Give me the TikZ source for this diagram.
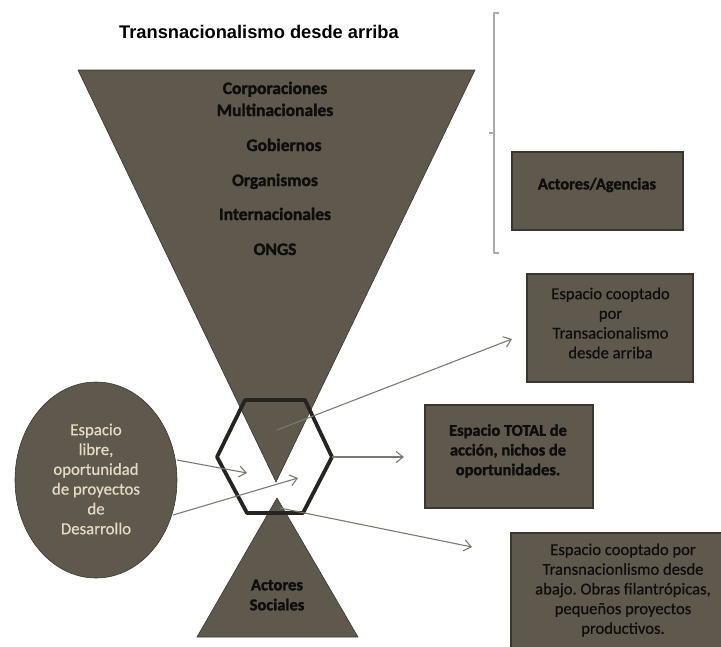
\documentclass[tikz,border=0pt]{standalone}
\usepackage{fontspec}
\setmainfont{Carlito}[BoldFeatures={FakeBold=1.6}]
\newfontfamily\arialfont{Liberation Sans}
\newfontfamily\softfont{Carlito}[UprightFeatures={FakeBold=0.4}]
\usetikzlibrary{arrows.meta,shapes.geometric}
\frenchspacing
\definecolor{fillc}{RGB}{94,88,77}
\definecolor{edgec}{RGB}{58,55,48}
\definecolor{arrowc}{RGB}{125,121,112}
\definecolor{bracec}{RGB}{172,170,166}
\definecolor{beige}{RGB}{232,219,198}
\definecolor{hexc}{RGB}{38,36,32}
\definecolor{txtc}{RGB}{14,13,12}
\tikzset{
  shapefill/.style={fill=fillc, draw=edgec, line width=0.6pt},
  boxnode/.style={rectangle, fill=fillc, draw=edgec, line width=2pt, inner sep=0pt},
  boldtxt/.style={font=\fontsize{17.5}{22}\selectfont\bfseries, text=txtc, inner sep=0pt, align=center},
  boxtxt/.style={font=\softfont\fontsize{16.6}{19.7}\selectfont, text=txtc, inner sep=0pt, align=center},
  boxbold/.style={font=\fontsize{16.4}{19.7}\selectfont\bfseries, text=txtc, inner sep=0pt, align=center},
  conn/.style={draw=arrowc, line width=1.1pt, -{Straight Barb[length=7pt,width=11pt,line width=1.1pt]}},
  bracket/.style={draw=bracec, line width=1.5pt, line join=round}
}
\begin{document}
\begin{tikzpicture}[x=1pt,y=-1pt]
\useasboundingbox (0,0) rectangle (721,646);
\clip (0,0) rectangle (721,646);
% title
\node[font=\arialfont\bfseries\fontsize{18.3}{22}\selectfont, anchor=base, inner sep=0pt] (title) at (259,38) {Transnacionalismo desde arriba};
% inverted triangle
\path[shapefill] (78,70) coordinate (t1) -- (475,70) coordinate (t2) -- (276,482) coordinate (t3) -- cycle;
% small triangle
\path[shapefill] (277,498) coordinate (s1) -- (358,637) coordinate (s2) -- (197,637) coordinate (s3) -- cycle;
% triangle texts
\node[boldtxt, anchor=base] (corp) at (275,94) {Corporaciones};
\node[boldtxt, anchor=base] (mult) at (275,116) {Multinacionales};
\node[boldtxt, anchor=base] (gob) at (284,151) {Gobiernos};
\node[boldtxt, anchor=base] (org) at (275,186) {Organismos};
\node[boldtxt, anchor=base] (inter) at (275,220) {Internacionales};
\node[boldtxt, anchor=base] (ongs) at (275,255) {ONGS};
\node[boldtxt, font=\fontsize{16.5}{20}\selectfont\bfseries] (soc) at (277,595) {Actores\\Sociales};
% hexagon
\draw[hexc, line width=3.8pt, line join=round]
  (245,400) coordinate (h1) -- (305,400) coordinate (h2) -- (332,457) coordinate (h3)
  -- (303,513) coordinate (h4) -- (247,513) coordinate (h5) -- (217,457) coordinate (h6) -- cycle;
% ellipse
\node[ellipse, fill=fillc, draw=edgec, line width=0.6pt, minimum width=162pt, minimum height=196pt, inner sep=0pt] (ell) at (96,480) {};
\node[boxtxt, text=beige, font=\softfont\fontsize{16.8}{19.8}\selectfont] (elltxt) at (96,479) {Espacio\\libre,\\oportunidad\\de proyectos\\de\\Desarrollo};
% boxes
\node[boxnode, minimum width=171pt, minimum height=78pt] (agen) at (597.5,191) {};
\node[boxbold] (agentxt) at (597,185) {Actores/Agencias};
\node[boxnode, minimum width=166pt, minimum height=108pt] (arriba) at (610,328) {};
\node[boxtxt] (arribatxt) at (610.5,323) {Espacio cooptado\\por\\Transacionalismo\\desde arriba};
\node[boxnode, minimum width=168pt, minimum height=103pt] (total) at (509,456.5) {};
\node[boxbold] (totaltxt) at (508,451) {Espacio TOTAL de\\acción, nichos de\\oportunidades.};
\node[boxnode, minimum width=224pt, minimum height=127pt] (abajo) at (623,596.5) {};
\node[boxtxt] (abajotxt) at (623,590) {Espacio cooptado por\\Transnacionlismo desde\\abajo. Obras filantrópicas,\\pequeños proyectos\\productivos.};
% bracket
\draw[bracket] (499,13) -- (494,13) -- (494,253) -- (499,253);
\draw[bracket] (494,133) coordinate (bmid) -- (489,133);
% connectors
\coordinate (e1) at (177,460);
\coordinate (p1) at (247,473);
\coordinate (e2) at (173,515);
\coordinate (p2) at (298,478);
\coordinate (c3) at (277,430);
\coordinate (q3) at (512,339);
\coordinate (q4) at (404,457);
\coordinate (c5) at (280,508);
\coordinate (q5) at (472,547);
\draw[conn] (e1) -- (p1);
\draw[conn] (e2) -- (p2);
\draw[conn] (c3) -- (q3);
\draw[conn] (h3) -- (q4);
\draw[conn] (c5) -- (q5);
\end{tikzpicture}
\end{document}
